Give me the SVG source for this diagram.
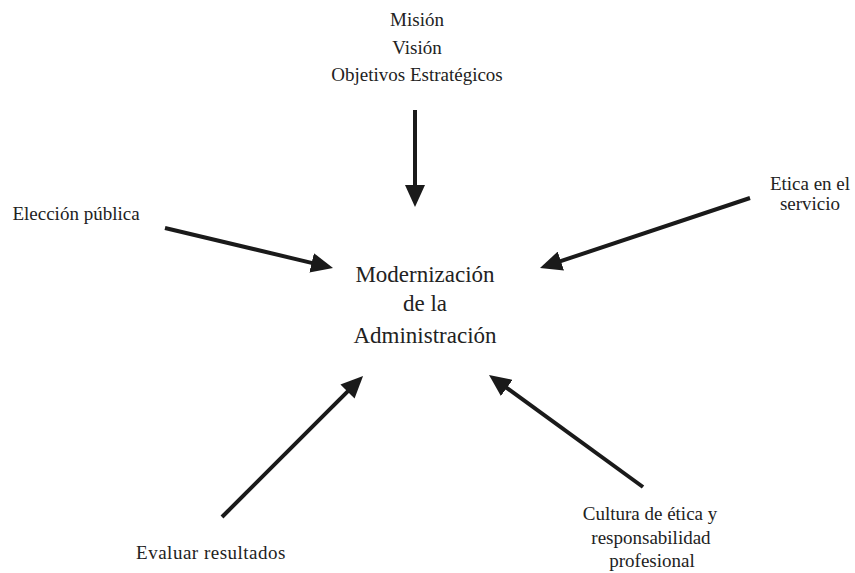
<svg xmlns="http://www.w3.org/2000/svg" width="855" height="573" viewBox="0 0 855 573">
<style>
text { font-family: "Liberation Serif", "Times New Roman", serif; fill: #222; text-anchor: middle; }
.s { font-size: 19px; }
.c { font-size: 23px; }
.conn line { stroke: #1a1a1a; stroke-width: 4; fill: none; marker-end: url(#ah); }
</style>
<defs>
<marker id="ah" markerUnits="userSpaceOnUse" markerWidth="22" markerHeight="20" viewBox="0 0 22 20" refX="1" refY="10" orient="auto">
<path d="M0,0 L22,10 L0,20 Z" fill="#1a1a1a"/>
</marker>
</defs>
<rect width="855" height="573" fill="#ffffff"/>
<g id="mision">
<text class="s" x="417" y="26">Misión</text>
<text class="s" x="417" y="54">Visión</text>
<text class="s" x="417" y="81">Objetivos Estratégicos</text>
</g>
<g id="eleccion">
<text class="s" x="76" y="220">Elección pública</text>
</g>
<g id="etica">
<text class="s" x="810" y="190">Etica en el</text>
<text class="s" x="810" y="210">servicio</text>
</g>
<g id="modernizacion">
<text class="c" x="425" y="282">Modernización</text>
<text class="c" x="425" y="311">de la</text>
<text class="c" x="425" y="343">Administración</text>
</g>
<g id="evaluar">
<text class="s" x="211" y="559" style="letter-spacing:0.5px">Evaluar resultados</text>
</g>
<g id="cultura">
<text class="s" x="650" y="520">Cultura de ética y</text>
<text class="s" x="651" y="544">responsabilidad</text>
<text class="s" x="652" y="567">profesional</text>
</g>
<g id="connectors" class="conn">
<line x1="415" y1="110" x2="415" y2="186"/>
<line x1="165" y1="228" x2="312.6" y2="263.1"/>
<line x1="750" y1="198" x2="559.9" y2="261.4"/>
<line x1="222" y1="517" x2="348.2" y2="390.8"/>
<line x1="643" y1="487" x2="506" y2="387.3"/>
</g>
</svg>
